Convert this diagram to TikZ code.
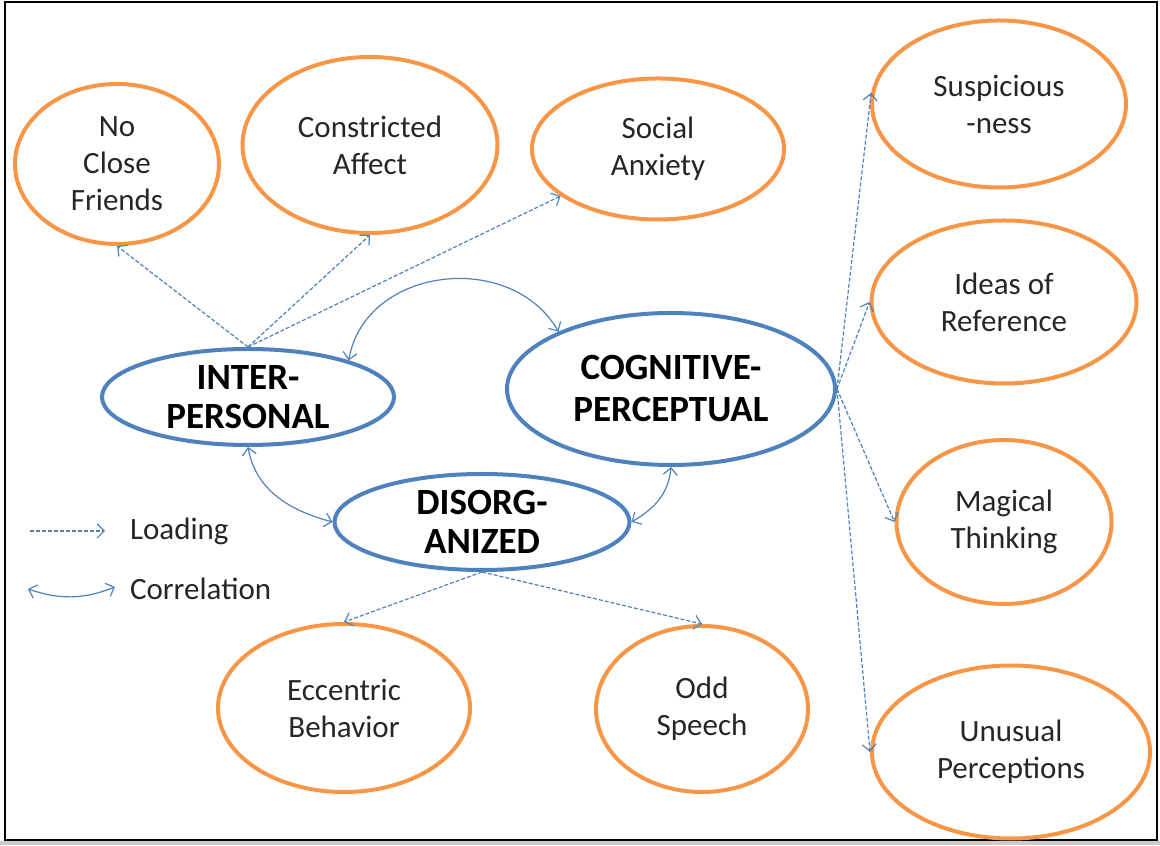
\documentclass[tikz,border=0pt]{standalone}
\usepackage{fontspec}
\setmainfont{Carlito}
\usetikzlibrary{shapes.geometric}
\usetikzlibrary{arrows.meta}
\definecolor{facetblue}{HTML}{4F81BD}
\definecolor{itemorange}{HTML}{F79646}

\begin{document}
\begin{tikzpicture}[x=0.5pt,y=0.5pt,
  >={Straight Barb[length=3.5pt,width=7pt]},
  item/.style={ellipse,draw=itemorange,line width=2pt,inner sep=0pt,align=center,
    font=\fontsize{15.5}{18.5}\selectfont,text=black!85},
  facet/.style={ellipse,draw=facetblue,line width=2pt,inner xsep=0pt,inner ysep=-4pt,align=center,
    font=\bfseries\fontsize{18.5}{19.5}\selectfont},
  legtext/.style={anchor=west,font=\fontsize{15.5}{18.5}\selectfont,text=black!85},
  loading/.style={->,color=facetblue,line width=0.6pt,dash pattern=on 2pt off 1pt},
  corr/.style={<->,color=facetblue,line width=0.6pt}]
\useasboundingbox (0,0) rectangle (1160,845);
\fill[black!20] (0,0) rectangle (1160,4);
\draw[line width=0.8pt] (5,5) rectangle (1157,843);

% factors
\node[facet,minimum width=146pt,minimum height=48pt] (ip) at (248,448) {INTER-\\PERSONAL};
\node[facet,minimum width=164pt,minimum height=76pt,font=\bfseries\fontsize{18.5}{21}\selectfont] (cp) at (671,456) {COGNITIVE-\\PERCEPTUAL};
\node[facet,minimum width=147.5pt,minimum height=48pt] (dz) at (482,323) {DISORG-\\ANIZED};

% items
\node[item,minimum width=102pt,minimum height=80pt] (nf) at (117,681) {No\\Close\\Friends};
\node[item,minimum width=127.5pt,minimum height=88pt] (ca) at (370,700) {Constricted\\Affect};
\node[item,minimum width=126pt,minimum height=70.5pt] (sa) at (658,696) {Social\\Anxiety};
\node[item,minimum width=127pt,minimum height=83.5pt] (su) at (999,741) {Suspicious\\-ness};
\node[item,minimum width=132.5pt,minimum height=81.5pt] (ir) at (1004,543) {Ideas of\\Reference};
\node[item,minimum width=107.5pt,minimum height=82pt] (mt) at (1004,323) {Magical\\Thinking};
\node[item,minimum width=139pt,minimum height=86.5pt] (up) at (1011,93) {Unusual\\Perceptions};
\node[item,minimum width=126pt,minimum height=84pt] (eb) at (344,137) {Eccentric\\Behavior};
\node[item,minimum width=106pt,minimum height=83pt] (os) at (702,136) {Odd\\Speech};

% legend
\coordinate (lda) at (30,314);
\coordinate (ldb) at (105,314);
\coordinate (cra) at (28,256);
\coordinate (crb) at (115,258);
\node[legtext] (ldt) at (123,314) {Loading};
\node[legtext] (crt) at (123,256) {Correlation};

\path[loading]
  (ip.north) edge (nf.south)
             edge (ca.south)
             edge (sa)
  (cp.east)  edge (su.175)
             edge (ir.west)
             edge (mt.west)
             edge (up.west)
  (dz.south) edge (eb.north)
             edge (os.north)
  (lda)      edge (ldb)
  ;
\path[corr]
  (ip.20)    edge[out=80,in=120,looseness=1.15] (cp.153)
  (ip.south) edge[out=-80,in=165] (dz.west)
  (dz.east)  edge[out=30,in=-95] (cp.south)
  (cra)      edge[bend right=20] (crb)
  ;
\end{tikzpicture}
\end{document}
